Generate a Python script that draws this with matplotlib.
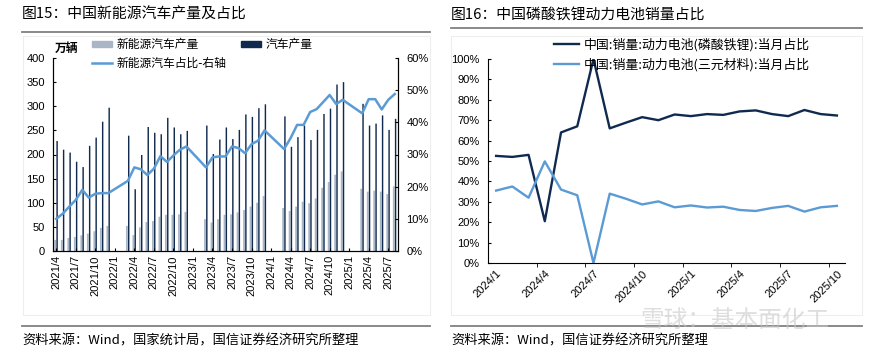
import numpy as np
import pandas as pd
import matplotlib
matplotlib.use("Agg")
import matplotlib.pyplot as plt
from matplotlib.patches import Patch, Rectangle
from matplotlib.lines import Line2D

plt.rcParams['font.family'] = ['Liberation Sans', 'Noto Sans CJK SC', 'DejaVu Sans']
CJK = ['Noto Sans CJK SC', 'DejaVu Sans']

# 数据 图15 (万辆, 1-2月无数据)
months15 = [f"{p.year}/{p.month}" for p in pd.period_range('2021-04', '2025-08', freq='M')]
nev_prod = [23, 23, 27, 29, 32.5, 36, 41, 48, 52,
            None, None, 52, 33, 49, 60, 62, 71, 75, 75, 76, 81,
            None, None, 66, 59, 66, 75, 76, 80, 85, 92, 100, 114,
            None, None, 89, 83, 92, 102, 99, 109, 131, 143, 158, 165,
            None, None, 129, 123, 125, 123, 118, 134]
auto_prod = [228, 210, 204, 185, 174, 218, 235, 268, 297,
             None, None, 239, 128, 199, 257, 245, 242, 276, 256, 242, 249,
             None, None, 260, 201, 231, 256, 232, 251, 283, 278, 296, 304,
             None, None, 279, 216, 236, 260, 230, 251, 284, 295, 345, 350,
             None, None, 305, 260, 264, 281, 251, 274]
nev_share = [10.0, 11.6, 13.8, 15.9, 19.0, 16.6, 17.8, 18.0, 18.0,
             None, None, 21.8, 26.0, 25.4, 23.6, 25.6, 29.5, 27.7, 29.7, 31.5, 32.5,
             None, None, 26.0, 29.1, 29.4, 29.4, 32.5, 32.0, 30.4, 33.2, 34.3, 37.5,
             None, None, 31.7, 35.1, 39.2, 39.2, 43.2, 44.1, 46.3, 48.5, 45.7, 47.0,
             None, None, 42.8, 47.2, 47.2, 44.0, 47.0, 48.8]

# 数据 图16 (%)
months16 = [f"{p.year}/{p.month}" for p in pd.period_range('2024-01', '2025-10', freq='M')]
lfp_share = [52.5, 52.0, 53.0, 20.5, 64.0, 67.0, 100.0, 66.0, 68.8, 71.5, 70.0,
             72.8, 72.0, 73.0, 72.6, 74.3, 74.8, 73.0, 72.0, 75.0, 73.0, 72.3]
ncm_share = [35.5, 37.5, 32.0, 49.8, 36.0, 33.2, 0.0, 34.0, 31.5, 28.7, 30.2,
             27.3, 28.2, 27.2, 27.6, 26.0, 25.5, 27.0, 28.0, 25.2, 27.3, 28.0]

GREY = '#a9b6c6'
NAVY = '#102a4f'
LBLUE = '#5b9bd5'

W, H = 872, 351
fig = plt.figure(figsize=(W / 100, H / 100), dpi=100)

def fx(px):
    return px / W

def fy(py):
    return 1 - py / H

# 外框 + 标题线
for x0, x1 in [(23, 430), (451, 862)]:
    fig.patches.append(Rectangle((fx(x0), fy(315)), fx(x1 - x0), fy(36) - fy(315),
                                 transform=fig.transFigure, fill=False, ec='#eeeeee', lw=0.8))
fig.add_artist(Line2D([fx(22), fx(430)], [fy(31.5), fy(31.5)], color='#808080', lw=1.3))
fig.add_artist(Line2D([fx(451), fx(862)], [fy(27.5), fy(27.5)], color='#808080', lw=1.3))
fig.add_artist(Line2D([fx(22), fx(430)], [fy(326), fy(326)], color='#808080', lw=1.3))
fig.add_artist(Line2D([fx(451), fx(862)], [fy(326), fy(326)], color='#808080', lw=1.3))

fig.text(fx(22), fy(15), '图15：中国新能源汽车产量及占比', family=CJK, fontsize=10.7,
         va='center', ha='left')
fig.text(fx(451), fy(15), '图16：中国磷酸铁锂动力电池销量占比', family=CJK, fontsize=10.7,
         va='center', ha='left')
fig.text(fx(22), fy(341), '资料来源：Wind，国家统计局，国信证券经济研究所整理', family=CJK,
         fontsize=9.5, va='center', ha='left')
fig.text(fx(451), fy(341), '资料来源：Wind，国信证券经济研究所整理', family=CJK,
         fontsize=9.5, va='center', ha='left')
fig.text(fx(640), fy(320), '雪球：基本面化工', family=CJK, fontsize=17,
         va='center', ha='left', color='#c8c8c8', alpha=0.6)

# ---- 图15 ----
ax1 = fig.add_axes([fx(53), fy(251), fx(398 - 53), fy(58) - fy(251)])
x = np.arange(len(months15))
nev = np.array(nev_prod, dtype=float)
tot = np.array(auto_prod, dtype=float)
shr = np.array(nev_share, dtype=float)
ax1.bar(x - 0.15, nev, width=0.28, color=GREY, snap=False, lw=0, label='新能源汽车产量')
ax1.bar(x + 0.13, tot, width=0.22, color=NAVY, snap=False, lw=0, label='汽车产量')
ax1.set_xlim(-0.5, len(months15) - 0.5)
ax1.set_ylim(0, 400)
ax1.set_yticks(np.arange(0, 401, 50))
ax1.tick_params(axis='y', direction='in', length=2.5, labelsize=8, pad=6)
ax1.set_xticks(x[::3])
ax1.set_xticklabels(months15[::3], rotation=90, fontsize=8)
ax1.tick_params(axis='x', direction='in', length=2.5, pad=3)
ax1.spines['top'].set_visible(False)

ax1r = ax1.twinx()
ok = ~np.isnan(shr)
ax1r.plot(x[ok], shr[ok], color=LBLUE, lw=1.8, label='新能源汽车占比-右轴')
ax1r.set_ylim(0, 60)
ax1r.set_yticks(np.arange(0, 61, 10))
ax1r.set_yticklabels([f'{v}%' for v in range(0, 61, 10)])
ax1r.tick_params(axis='y', direction='in', length=2.5, labelsize=8, pad=6)
ax1r.spines['top'].set_visible(False)

fig.text(fx(55), fy(48), '万辆', family=CJK, fontsize=8.5, fontweight='bold',
         va='center', ha='left')
handles = [Patch(color=GREY), Line2D([], [], color=LBLUE, lw=1.8), Patch(color=NAVY)]
labels = ['新能源汽车产量', '新能源汽车占比-右轴', '汽车产量']
fig.legend(handles, labels, ncol=2, loc='upper left',
           bbox_to_anchor=(fx(92), fy(38)), frameon=False,
           prop={'family': CJK, 'size': 8.5}, handlelength=1.7, handleheight=0.45,
           handletextpad=0.4, columnspacing=1.2, labelspacing=0.45,
           borderpad=0, borderaxespad=0)

# ---- 图16 ----
ax2 = fig.add_axes([fx(488), fy(263), fx(845 - 488), fy(59) - fy(263)])
x2 = np.arange(len(months16))
ax2.plot(x2, lfp_share, color=NAVY, lw=1.7, label='中国:销量:动力电池(磷酸铁锂):当月占比')
ax2.plot(x2, ncm_share, color=LBLUE, lw=1.7, label='中国:销量:动力电池(三元材料):当月占比')
ax2.set_xlim(-0.5, len(months16) - 0.5)
ax2.set_ylim(0, 100)
ax2.set_yticks(np.arange(0, 101, 10))
ax2.set_yticklabels([f'{v}%' for v in range(0, 101, 10)])
ax2.tick_params(axis='y', direction='in', length=2.5, labelsize=8, pad=6)
ax2.set_xticks(x2[::3])
ax2.set_xticklabels(months16[::3], rotation=45, ha='right', rotation_mode='anchor', fontsize=8)
ax2.tick_params(axis='x', length=0, pad=4)
ax2.set_xticks(x2[2::3] + 0.5, minor=True)
ax2.tick_params(axis='x', which='minor', direction='out', length=3)
ax2.spines['top'].set_visible(False)
ax2.spines['right'].set_visible(False)
ax2.legend(loc='upper left', bbox_to_anchor=(fx(554), fy(38)),
           bbox_transform=fig.transFigure, frameon=False,
           prop={'family': CJK, 'size': 9.3}, handlelength=1.9,
           handletextpad=0.4, labelspacing=0.5, borderpad=0, borderaxespad=0)

fig.savefig('out.png', dpi=100)
